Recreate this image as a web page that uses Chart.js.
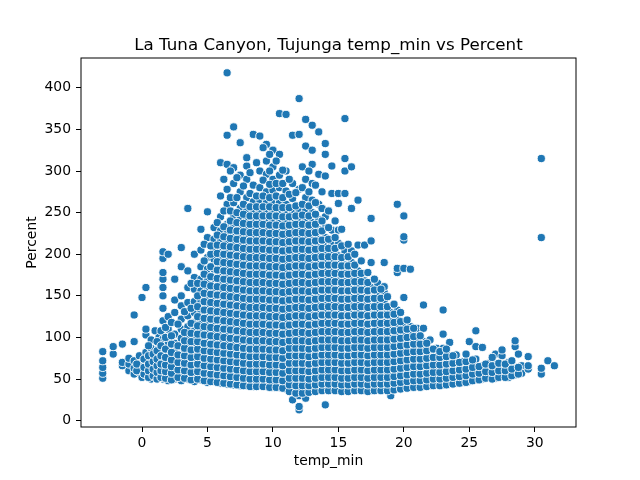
<!DOCTYPE html>
<html>
<head>
<meta charset="utf-8">
<script src="https://cdn.jsdelivr.net/npm/chart.js@4.4.1/dist/chart.umd.min.js"></script>
<style>
  html, body { margin: 0; padding: 0; background: #fff; }
  #wrap { width: 640px; height: 480px; }
</style>
</head>
<body>
<div id="wrap"><canvas id="scatterChart" width="640" height="480"></canvas></div>
<script>
/* ── Data (temp_min columns, Percent values) ── */
const tempMin = [
  -3.0, -2.2, -1.5, -1.0, -0.6, -0.2, 0.0, 0.3, 0.7, 1.0, 1.3, 1.6, 2.0, 2.5,
  3.0, 3.5, 4.0, 4.5, 5.0, 5.5, 6.0, 6.5, 7.0, 7.5, 8.0, 8.5, 9.0, 9.5,
  10.0, 10.5, 11.0, 11.5, 12.0, 12.5, 13.0, 13.5, 14.0, 14.5, 15.0, 15.5,
  16.0, 16.5, 17.0, 17.5, 18.0, 18.5, 19.0, 19.5, 20.0, 20.5, 21.0, 21.5,
  22.0, 22.5, 23.0, 23.5, 24.0, 24.5, 25.0, 25.5, 26.0, 26.5, 27.0, 27.5,
  28.0, 28.5, 29.0, 29.5, 30.5, 31.0, 31.5
];

const percentByTemp = [
  [51, 57, 64, 72, 83],
  [80, 89],
  [66, 70, 92],
  [60, 68, 75],
  [56, 63, 72, 95, 127],
  [58, 66, 78],
  [52, 60, 69, 148],
  [55, 63, 72, 82, 103, 110, 160],
  [50, 58, 66, 75, 87, 97],
  [53, 61, 70, 79, 108],
  [51, 59, 67, 76, 88, 100],
  [50, 58, 66, 75, 86, 98, 120, 135, 150, 160, 170, 178, 195, 203],
  [48, 56, 64, 72, 81, 92, 110, 125, 200],
  [50, 58, 66, 74, 83, 93, 104, 130, 145, 170],
  [48, 56, 64, 72, 80, 89, 99, 110, 122, 138, 150, 185, 208],
  [50, 58, 66, 74, 83, 92, 102, 113, 126, 142, 160, 180, 255],
  [47, 55, 63, 71, 80, 89, 98, 108, 118, 130, 143, 158, 172, 200],
  [49, 57, 65, 74, 83, 92, 101, 111, 121, 132, 144, 156, 170, 185, 205, 230],
  [46, 54, 62, 71, 80, 89, 98, 107, 117, 127, 137, 148, 159, 170, 182, 196, 220, 251],
  [47, 55, 64, 73, 82, 91, 100, 110, 120, 130, 140, 150, 160, 171, 182, 194, 206, 218, 232],
  [45, 53, 61, 70, 79, 88, 97, 106, 116, 126, 136, 146, 156, 166, 176, 186, 196, 206, 216, 228, 245, 270, 310],
  [44, 52, 60, 69, 78, 87, 96, 105, 115, 125, 135, 145, 155, 165, 175, 185, 195, 205, 215, 225, 236, 260, 278, 308, 343, 418],
  [43, 51, 59, 68, 77, 86, 95, 104, 114, 124, 134, 144, 154, 164, 174, 184, 194, 204, 214, 224, 234, 246, 262, 285, 304, 353],
  [42, 50, 58, 67, 76, 85, 94, 103, 113, 123, 133, 143, 153, 163, 173, 183, 193, 203, 213, 223, 233, 243, 255, 275, 295, 334],
  [42, 50, 58, 67, 76, 85, 94, 103, 112, 122, 132, 142, 152, 162, 172, 182, 192, 202, 212, 222, 232, 242, 252, 268, 290, 306, 316],
  [41, 49, 57, 66, 75, 84, 93, 102, 112, 122, 132, 142, 152, 162, 172, 182, 192, 202, 212, 222, 232, 242, 252, 263, 283, 344],
  [42, 50, 58, 67, 76, 85, 94, 103, 113, 123, 133, 143, 153, 163, 173, 183, 193, 203, 213, 223, 233, 243, 253, 265, 280, 300, 342],
  [41, 49, 57, 66, 75, 84, 93, 102, 112, 122, 132, 142, 152, 162, 172, 182, 192, 202, 212, 222, 232, 242, 252, 262, 275, 296, 312, 332],
  [40, 48, 56, 65, 74, 83, 92, 101, 111, 121, 131, 141, 151, 161, 171, 181, 191, 201, 211, 221, 231, 241, 251, 261, 277, 290, 305, 325],
  [40, 48, 56, 65, 74, 83, 92, 101, 111, 121, 131, 141, 151, 161, 171, 181, 191, 201, 211, 221, 231, 241, 251, 262, 280, 295, 320, 369],
  [38, 46, 54, 63, 72, 81, 90, 99, 109, 119, 129, 139, 149, 159, 169, 179, 189, 199, 209, 219, 229, 239, 249, 260, 276, 300, 368],
  [25, 39, 47, 55, 64, 73, 82, 91, 100, 110, 120, 130, 140, 150, 160, 170, 180, 190, 200, 210, 220, 230, 240, 250, 267, 285, 343],
  [13, 17, 30, 38, 46, 55, 64, 73, 82, 91, 101, 111, 121, 131, 141, 151, 161, 171, 181, 191, 201, 211, 221, 231, 241, 253, 278, 344, 387],
  [27, 38, 46, 55, 64, 73, 82, 91, 100, 110, 120, 130, 140, 150, 160, 170, 180, 190, 200, 210, 220, 230, 240, 252, 268, 290, 330, 362],
  [36, 44, 52, 61, 70, 79, 88, 97, 107, 117, 127, 137, 147, 157, 167, 177, 187, 197, 207, 217, 227, 238, 250, 265, 285, 308, 325, 355],
  [37, 45, 53, 62, 71, 80, 89, 98, 108, 118, 128, 138, 148, 158, 168, 178, 188, 198, 208, 218, 230, 242, 260, 296, 347],
  [19, 38, 46, 54, 63, 72, 81, 90, 99, 109, 119, 129, 139, 149, 159, 169, 179, 189, 199, 209, 220, 232, 245, 294, 320, 333],
  [38, 46, 54, 63, 72, 81, 90, 99, 109, 119, 129, 139, 149, 159, 169, 179, 189, 199, 212, 229, 273, 306],
  [37, 45, 53, 62, 71, 80, 89, 98, 108, 118, 128, 138, 148, 158, 168, 178, 188, 198, 213, 229, 261, 273],
  [36, 44, 52, 61, 70, 79, 88, 97, 107, 117, 127, 137, 147, 157, 167, 177, 187, 204, 273, 300, 315, 363],
  [37, 45, 53, 62, 71, 80, 89, 98, 108, 118, 128, 138, 148, 158, 168, 178, 190, 204, 255, 305],
  [38, 46, 54, 63, 72, 81, 90, 99, 109, 119, 129, 139, 149, 159, 169, 180, 211, 265],
  [37, 45, 53, 62, 71, 80, 89, 98, 108, 118, 128, 138, 148, 158, 168, 211],
  [36, 44, 52, 61, 70, 79, 88, 97, 107, 117, 127, 137, 147, 160, 190, 216, 243],
  [38, 46, 54, 63, 72, 81, 90, 99, 109, 119, 129, 139, 150, 165],
  [37, 45, 53, 62, 71, 80, 89, 98, 108, 118, 128, 138, 145, 154, 161, 190],
  [30, 38, 46, 54, 63, 72, 81, 90, 99, 109, 119, 130],
  [39, 47, 55, 64, 73, 82, 91, 101, 111, 122, 133, 178, 183, 260],
  [40, 48, 56, 65, 74, 83, 92, 102, 112, 148, 183, 217, 221, 246],
  [41, 49, 57, 66, 75, 84, 93, 103, 113, 182],
  [41, 49, 57, 66, 75, 84, 94, 104, 111],
  [42, 50, 58, 67, 76, 85, 95, 111, 139],
  [42, 50, 58, 67, 76, 86, 97],
  [43, 51, 59, 68, 77, 87],
  [43, 51, 59, 68, 77, 87, 104, 133],
  [44, 52, 60, 69, 78, 94],
  [45, 53, 61, 70, 79],
  [46, 54, 62, 71],
  [47, 55, 63, 72, 95],
  [49, 57, 65, 74, 89, 108],
  [50, 58, 66, 88],
  [52, 60, 69],
  [51, 59, 68, 80],
  [53, 61, 78, 85],
  [52, 60, 70],
  [55, 63, 89, 96],
  [57, 66],
  [62, 66, 77],
  [56, 63, 220, 315],
  [72],
  [66]
];

// In-between readings that fill the dense core of the cloud
const tempMinFill = [
  -0.4, 0.15, 0.5, 0.85, 1.15, 1.45, 1.8, 2.25, 2.75, 3.25, 3.75, 4.25,
  4.75, 5.25, 5.75, 6.25, 6.75, 7.25, 7.75, 8.25, 8.75, 9.25, 9.75, 10.25,
  10.75, 11.25, 11.75, 12.25, 12.75, 13.25, 13.75, 14.25, 14.75, 15.25,
  15.75, 16.25, 16.75, 17.25, 17.75, 18.25, 18.75, 19.25, 19.75, 20.25,
  20.75, 21.25, 21.75, 22.25, 22.75, 23.25, 23.75, 24.25, 24.75, 25.25,
  25.75, 26.25, 26.75, 27.25, 27.75, 28.25, 28.75
];

const percentFill = [
  [60, 68],
  [56, 64, 74],
  [52, 60, 68, 78, 90],
  [54, 62, 71, 80],
  [50, 58, 66, 74, 84, 95],
  [52, 60, 68, 78, 90, 108],
  [51, 59, 67, 76, 86, 100, 112],
  [49, 57, 65, 73, 82, 92, 102, 118],
  [52, 61, 70, 79, 90, 116],
  [51, 60, 69, 78, 87, 96, 106, 131],
  [49, 58, 67, 76, 85, 95, 105, 117, 135, 165],
  [50, 59, 68, 77, 86, 95, 104, 114, 125, 137, 150, 165],
  [48, 57, 66, 75, 84, 93, 103, 113, 123, 133, 143, 153, 164, 176, 192, 212],
  [47, 56, 65, 74, 83, 92, 102, 112, 122, 132, 142, 152, 162, 173, 185, 200, 210],
  [46, 55, 64, 73, 82, 91, 101, 111, 121, 131, 141, 151, 161, 171, 181, 191, 201, 211, 223, 238],
  [45, 54, 63, 72, 81, 90, 100, 110, 120, 130, 140, 150, 160, 170, 180, 190, 200, 210, 221, 233, 252, 290],
  [44, 53, 62, 71, 80, 89, 99, 109, 119, 129, 139, 149, 159, 169, 179, 189, 199, 209, 219, 229, 240, 252, 268, 300],
  [43, 52, 61, 70, 79, 88, 98, 108, 118, 128, 138, 148, 158, 168, 178, 188, 198, 208, 218, 228, 238, 250, 268, 292],
  [42, 51, 60, 69, 78, 87, 97, 107, 117, 127, 137, 147, 157, 167, 177, 187, 197, 207, 217, 227, 237, 248, 260, 282],
  [41, 50, 59, 68, 77, 86, 96, 106, 116, 126, 136, 146, 156, 166, 176, 186, 196, 206, 216, 226, 236, 246, 257, 273, 298],
  [41, 50, 59, 68, 77, 86, 96, 106, 116, 126, 136, 146, 156, 166, 176, 186, 196, 206, 216, 226, 236, 246, 257, 270, 310],
  [41, 50, 59, 68, 77, 86, 96, 106, 116, 126, 136, 146, 156, 166, 176, 186, 196, 206, 216, 226, 236, 246, 257, 270, 289, 328],
  [40, 49, 58, 67, 76, 85, 95, 105, 115, 125, 135, 145, 155, 165, 175, 185, 195, 205, 215, 225, 235, 246, 257, 268, 284, 300, 320],
  [40, 49, 58, 67, 76, 85, 95, 105, 115, 125, 135, 145, 155, 165, 175, 185, 195, 205, 215, 225, 235, 246, 256, 270, 285, 312],
  [39, 48, 57, 66, 75, 84, 94, 104, 114, 124, 134, 144, 154, 164, 174, 184, 194, 204, 214, 224, 234, 245, 256, 268, 285, 301],
  [35, 43, 51, 60, 69, 78, 87, 96, 105, 115, 125, 135, 145, 155, 165, 175, 185, 195, 205, 215, 225, 235, 245, 256, 272, 290],
  [33, 42, 51, 60, 69, 78, 87, 96, 106, 116, 126, 136, 146, 156, 166, 176, 186, 196, 206, 216, 226, 236, 246, 258, 274],
  [33, 42, 51, 60, 69, 78, 87, 96, 106, 116, 126, 136, 146, 156, 166, 176, 186, 196, 206, 216, 226, 236, 247, 260, 280, 305],
  [34, 42, 50, 59, 68, 77, 86, 95, 105, 115, 125, 135, 145, 155, 165, 175, 185, 195, 205, 215, 225, 235, 246, 258, 275, 300],
  [35, 43, 51, 60, 69, 78, 87, 96, 106, 116, 126, 136, 146, 156, 166, 176, 186, 196, 206, 216, 226, 236, 248, 262, 283],
  [36, 44, 52, 61, 70, 79, 88, 97, 107, 117, 127, 137, 147, 157, 167, 177, 187, 197, 207, 217, 228, 240, 255, 275],
  [36, 44, 52, 61, 70, 79, 88, 97, 107, 117, 127, 137, 147, 157, 167, 177, 187, 197, 207, 218, 232, 252],
  [36, 44, 52, 61, 70, 79, 88, 97, 107, 117, 127, 137, 147, 157, 167, 177, 187, 197, 207, 220, 240],
  [35, 43, 51, 60, 69, 78, 87, 96, 106, 116, 126, 136, 146, 156, 166, 176, 186, 196, 210, 230],
  [35, 43, 51, 60, 69, 78, 87, 96, 106, 116, 126, 136, 146, 156, 166, 176, 186, 197, 212],
  [36, 44, 52, 61, 70, 79, 88, 97, 107, 117, 127, 137, 147, 157, 167, 177, 187, 200],
  [36, 44, 52, 61, 70, 79, 88, 97, 107, 117, 127, 137, 147, 157, 167, 177, 192],
  [35, 43, 51, 60, 69, 78, 87, 96, 106, 116, 126, 136, 146, 156, 166, 178],
  [36, 44, 52, 61, 70, 79, 88, 97, 107, 117, 127, 137, 147, 157, 170],
  [36, 44, 52, 61, 70, 79, 88, 97, 107, 117, 127, 137, 147, 158],
  [36, 44, 52, 61, 70, 79, 88, 97, 107, 117, 127, 137, 149],
  [37, 45, 53, 62, 71, 80, 89, 98, 108, 118, 128, 140],
  [38, 46, 54, 63, 72, 81, 90, 99, 109, 119, 130],
  [39, 47, 55, 64, 73, 82, 91, 100, 110, 121],
  [40, 48, 56, 65, 74, 83, 92, 101, 111],
  [40, 48, 56, 65, 74, 83, 92, 102],
  [41, 49, 57, 66, 75, 84, 93],
  [42, 50, 58, 67, 76, 86],
  [42, 50, 58, 67, 76, 83],
  [43, 51, 59, 68, 77, 86],
  [44, 52, 60, 69, 78],
  [45, 53, 61, 70],
  [46, 54, 62, 71, 80],
  [48, 56, 64, 73],
  [49, 57, 65],
  [51, 59, 68],
  [50, 58, 66, 76],
  [52, 60, 69],
  [52, 60, 68],
  [54, 62, 72],
  [56, 64, 80]
];

const xTicks = [0, 5, 10, 15, 20, 25, 30];
const yTicks = [0, 50, 100, 150, 200, 250, 300, 350, 400];

const chartTitle = 'La Tuna Canyon, Tujunga temp_min vs Percent';
const FONT = 'DejaVu Sans';

/* ── Flatten columns into scatter points ── */
const points = [];
tempMin.forEach((t, i) => {
  percentByTemp[i].forEach(p => points.push({ x: t, y: p }));
});
tempMinFill.forEach((t, i) => {
  percentFill[i].forEach(p => points.push({ x: t, y: p }));
});

/* ── Full axes frame + title centred on the plot area ── */
const framePlugin = {
  id: 'frame',
  afterDraw(chart) {
    const { ctx, chartArea: a } = chart;
    ctx.save();
    ctx.strokeStyle = '#000';
    ctx.lineWidth = 1;
    ctx.strokeRect(a.left, a.top, a.right - a.left, a.bottom - a.top);
    ctx.fillStyle = '#000';
    ctx.font = `16.7px "${FONT}"`;
    ctx.textAlign = 'center';
    ctx.textBaseline = 'alphabetic';
    ctx.fillText(chartTitle, (a.left + a.right) / 2, a.top - 8.5);
    ctx.restore();
  }
};

const tickFont = { family: FONT, size: 13.9 };

new Chart(document.getElementById('scatterChart').getContext('2d'), {
  type: 'scatter',
  data: {
    datasets: [{
      data: points,
      backgroundColor: '#1f77b4',
      borderColor: '#ffffff',
      borderWidth: 0.9,
      pointRadius: 4.1,
    }],
  },
  options: {
    responsive: false,
    animation: false,
    devicePixelRatio: 1,
    events: [],
    layout: { padding: { top: 58, right: 64, bottom: 0, left: 0 } },
    plugins: {
      legend: { display: false },
      tooltip: { enabled: false },
      title: { display: false },
    },
    scales: {
      x: {
        type: 'linear',
        min: -4.66,
        max: 33.15,
        afterBuildTicks: s => { s.ticks = xTicks.map(v => ({ value: v })); },
        afterFit: s => { s.height = 53; },
        border: { display: false },
        grid: { drawOnChartArea: false, drawTicks: true, tickLength: 5, color: '#000', tickColor: '#000' },
        ticks: { color: '#000', font: tickFont, padding: 3, maxRotation: 0, autoSkip: false },
        title: { display: true, text: 'temp_min', color: '#000', font: tickFont, padding: { top: 0, bottom: 10 } },
      },
      y: {
        type: 'linear',
        min: -7.6,
        max: 435.8,
        afterBuildTicks: s => { s.ticks = yTicks.map(v => ({ value: v })); },
        afterFit: s => { s.width = 81; },
        border: { display: false },
        grid: { drawOnChartArea: false, drawTicks: true, tickLength: 5, color: '#000', tickColor: '#000' },
        ticks: { color: '#000', font: tickFont, padding: 5, autoSkip: false },
        title: { display: true, text: 'Percent', color: '#000', font: tickFont, padding: { top: 23.7, bottom: 0 } },
      },
    },
  },
  plugins: [framePlugin],
});
</script>
</body>
</html>
